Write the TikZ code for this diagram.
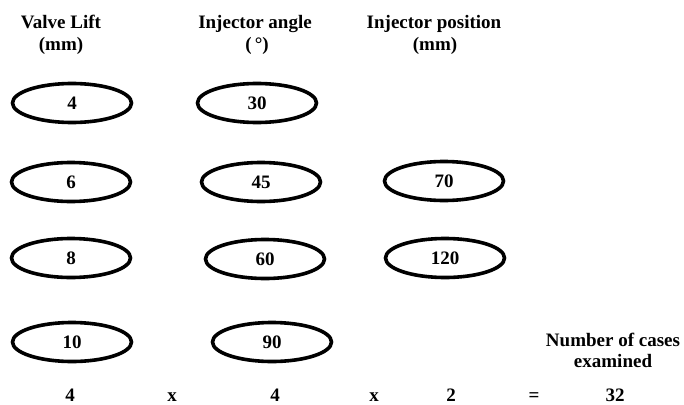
\documentclass[tikz,border=0pt]{standalone}
\usepackage{fontspec}
\setmainfont{Liberation Serif}
\usetikzlibrary{shapes.geometric}
\begin{document}
\begin{tikzpicture}[x=1pt,y=-1pt,
  lbl/.style={font=\fontsize{19}{22}\selectfont\bfseries, inner sep=0pt, anchor=base},
  ell/.style={ellipse, draw=black, line width=3.6pt, minimum width=119pt, minimum height=39pt, inner sep=0pt, font=\fontsize{19}{22}\selectfont\bfseries}]
\useasboundingbox (0,0) rectangle (684,404);
% headers
\node[lbl] (h1a) at (61,29) {Valve Lift};
\node[lbl] (h1b) at (61,50) {(mm)};
\node[lbl] (h2a) at (255,29) {Injector angle};
\node[lbl] (h2b) at (257,50) {(\,°)};
\node[lbl] (h3a) at (434,29) {Injector position};
\node[lbl] (h3b) at (435,50) {(mm)};
% column 1
\node[ell] (a1) at (72,103) {4};
\node[ell] (a2) at (71,182) {6};
\node[ell] (a3) at (71,258) {8};
\node[ell] (a4) at (72,342) {10};
% column 2
\node[ell] (b1) at (257,103) {30};
\node[ell] (b2) at (261,182) {45};
\node[ell] (b3) at (265,259) {60};
\node[ell] (b4) at (272,342) {90};
% column 3
\node[ell] (c1) at (444,181) {70};
\node[ell] (c2) at (445,258) {120};
% result label
\node[lbl] (n1) at (613,346) {Number of cases};
\node[lbl] (n2) at (613,367) {examined};
% bottom row
\node[lbl] (r1) at (70,401) {4};
\node[lbl] (r2) at (172,401) {x};
\node[lbl] (r3) at (275,401) {4};
\node[lbl] (r4) at (374,401) {x};
\node[lbl] (r5) at (451,401) {2};
\node[lbl] (r6) at (534,401) {=};
\node[lbl] (r7) at (615,401) {32};
\end{tikzpicture}
\end{document}
